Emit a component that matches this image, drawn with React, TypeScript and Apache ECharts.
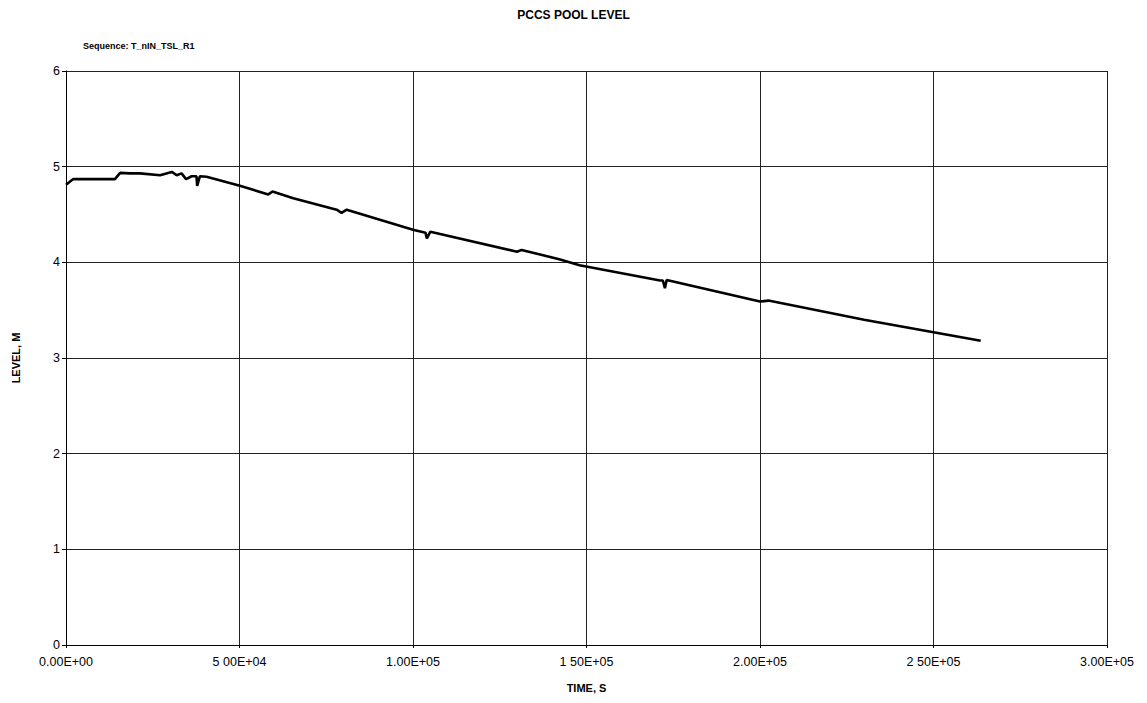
import React, { useEffect, useRef } from "react";
import * as echarts from "echarts";

// Pool level history: time (s) and level (m)
const timeS = [
  0, 2100, 14100, 15600, 18400, 21300, 27100, 30500, 31900, 33300, 34600,
  36200, 37600, 37800, 38600, 40500, 50100, 58300, 59500, 65500, 78000,
  79400, 80900, 100000, 103600, 104000, 105000, 130000, 131300, 142400,
  148000, 171200, 172000, 172600, 173100, 200000, 202400, 230000, 263600,
];
const levelM = [
  4.81, 4.87, 4.87, 4.935, 4.93, 4.93, 4.91, 4.945, 4.91, 4.93, 4.87,
  4.9, 4.9, 4.8, 4.9, 4.895, 4.8, 4.71, 4.74, 4.67, 4.55,
  4.518, 4.55, 4.34, 4.31, 4.25, 4.32, 4.11, 4.13, 4.03,
  3.97, 3.81, 3.81, 3.73, 3.815, 3.59, 3.6, 3.4, 3.18,
];

const xTickValues = [0, 50000, 100000, 150000, 200000, 250000, 300000];
const xTickLabels = [
  "0.00E+00", "5 00E+04", "1.00E+05", "1 50E+05", "2.00E+05", "2 50E+05", "3.00E+05",
];

const FONT = "'Liberation Sans', Arial, sans-serif";

export default function App() {
  const ref = useRef<HTMLDivElement>(null);

  useEffect(() => {
    if (!ref.current) return;
    const chart = echarts.init(ref.current, undefined, { renderer: "svg" });
    const data = timeS.map((t, i) => [t, levelM[i]]);
    chart.setOption({
      animation: false,
      backgroundColor: "#ffffff",
      textStyle: { fontFamily: FONT },
      title: [
        {
          text: "PCCS POOL LEVEL",
          left: "center",
          top: 4,
          textStyle: { fontFamily: FONT, fontSize: 12, fontWeight: "bold", color: "#000" },
        },
        {
          text: "Sequence: T_nIN_TSL_R1",
          left: 78,
          top: 36,
          textStyle: { fontFamily: FONT, fontSize: 9, fontWeight: "bold", color: "#000" },
        },
      ],
      grid: { left: 66, right: 40, top: 71, bottom: 58 },
      xAxis: {
        type: "value",
        min: 0,
        max: 300000,
        interval: 50000,
        name: "TIME, S",
        nameLocation: "middle",
        nameGap: 37,
        nameTextStyle: { fontFamily: FONT, fontSize: 11, fontWeight: "bold", color: "#000" },
        axisLine: { show: true, lineStyle: { color: "#000", width: 1 } },
        axisTick: { show: true, length: 3, lineStyle: { color: "#000" } },
        axisLabel: {
          fontFamily: FONT,
          fontSize: 12.5,
          color: "#000",
          margin: 10,
          formatter: (v: number) => {
            const i = xTickValues.indexOf(v);
            return i >= 0 ? xTickLabels[i] : "";
          },
        },
        splitLine: { show: true, lineStyle: { color: "#222", width: 1 } },
      },
      yAxis: {
        type: "value",
        min: 0,
        max: 6,
        interval: 1,
        name: "LEVEL, M",
        nameLocation: "middle",
        nameGap: 45,
        nameTextStyle: { fontFamily: FONT, fontSize: 11, fontWeight: "bold", color: "#000" },
        axisLine: { show: true, lineStyle: { color: "#000", width: 1 } },
        axisTick: { show: true, length: 4, lineStyle: { color: "#000" } },
        axisLabel: { fontFamily: FONT, fontSize: 12.5, color: "#000", margin: 6 },
        splitLine: { show: true, lineStyle: { color: "#222", width: 1 } },
      },
      series: [
        {
          type: "line",
          data,
          showSymbol: false,
          symbol: "none",
          lineStyle: { color: "#000", width: 2.6 },
        },
      ],
    });
    return () => chart.dispose();
  }, []);

  return <div ref={ref} style={{ width: 1147, height: 703, margin: -8 }} />;
}
